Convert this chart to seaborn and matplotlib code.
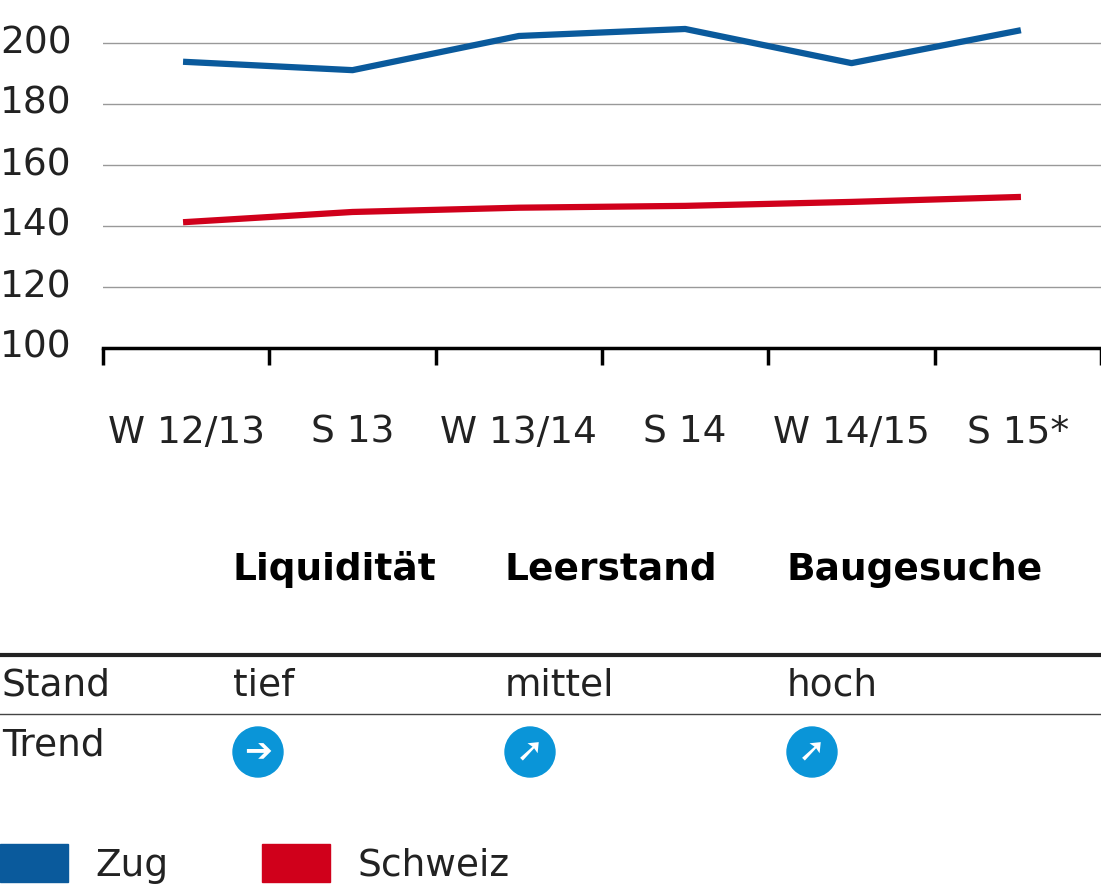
import matplotlib
matplotlib.use("Agg")
import matplotlib.pyplot as plt
import matplotlib.patches as mpatches
import pandas as pd
import seaborn as sns

PERIODS = ["W 12/13", "S 13", "W 13/14", "S 14", "W 14/15", "S 15*"]
ZUG = [193.8, 191.1, 202.3, 204.6, 193.4, 204.0]
SCHWEIZ = [141.3, 144.6, 146.0, 146.6, 147.9, 149.5]
Y_TICKS = [100, 120, 140, 160, 180, 200]

HEADERS = ["Liquidität", "Leerstand", "Baugesuche"]
STAND = ["tief", "mittel", "hoch"]
TREND = ["➔", "➚", "➚"]

BLUE = "#0a5a9c"
RED = "#d0001b"
ICON = "#0a95d8"
W, H = 1101, 893

df = pd.DataFrame({
    "period": PERIODS * 2,
    "value": ZUG + SCHWEIZ,
    "series": ["Zug"] * 6 + ["Schweiz"] * 6,
})

fig = plt.figure(figsize=(W / 100, H / 100), dpi=100)
ax = fig.add_axes([103 / W, 1 - 348 / H, (1101 - 103) / W, 348 / H])
ax.patch.set_alpha(0)
sns.lineplot(data=df, x="period", y="value", hue="series", sort=False,
             palette={"Zug": BLUE, "Schweiz": RED}, linewidth=4.5,
             legend=False, ax=ax)
ax.set_xlim(-0.5, 5.5)
ax.set_ylim(100, 100 + 348 / 3.05)
ax.set_yticks(Y_TICKS)
ax.set_yticklabels([])
ax.tick_params(axis="y", length=0)
ytrans = ax.get_yaxis_transform()
for t in Y_TICKS:
    ax.text(-103 / 998, t, str(t), transform=ytrans, fontsize=27,
            color="#222", ha="left", va="center", clip_on=False)
for t in Y_TICKS[1:]:
    ax.axhline(t, color="#999", lw=1, zorder=0)
ax.set_xticks([i - 0.5 for i in range(7)])
ax.set_xticklabels([])
ax.set_xticks(range(6), minor=True)
ax.set_xticklabels(PERIODS, minor=True, fontsize=27, color="#222")
ax.tick_params(axis="x", which="major", length=12, width=2.5, direction="out")
ax.tick_params(axis="x", which="minor", length=0, pad=48)
for s in ["top", "right", "left"]:
    ax.spines[s].set_visible(False)
ax.spines["bottom"].set_linewidth(2.5)
ax.set_xlabel("")
ax.set_ylabel("")


def fx(px):
    return px / W


def fy(py):
    return 1 - py / H


cols = [233, 505, 787]
for x, h in zip(cols, HEADERS):
    fig.text(fx(x), fy(570), h, fontsize=27, fontweight="bold", va="center")
fig.add_artist(plt.Line2D([0, 1], [fy(655), fy(655)], color="#222", lw=3))
fig.add_artist(plt.Line2D([0, 1], [fy(714), fy(714)], color="#444", lw=1))
fig.text(fx(2), fy(686), "Stand", fontsize=27, va="center", color="#222")
fig.text(fx(2), fy(745), "Trend", fontsize=27, va="center", color="#222")
for x, s, t in zip(cols, STAND, TREND):
    fig.text(fx(x), fy(686), s, fontsize=27, va="center", color="#222")
    cx, cy = x + 25, 752
    fig.add_artist(mpatches.Ellipse((fx(cx), fy(cy)), 50 / W, 50 / H,
                                    color=ICON, transform=fig.transFigure))
    fig.text(fx(cx), fy(cy), t, fontsize=24, color="white",
             ha="center", va="center")

for x, label, c in [(0, "Zug", BLUE), (262, "Schweiz", RED)]:
    fig.add_artist(mpatches.Rectangle((fx(x), fy(882)), 68 / W, 38 / H,
                                      color=c, transform=fig.transFigure))
    fig.text(fx(x + 95), fy(866), label, fontsize=27, va="center", color="#222")

fig.savefig("out.png", dpi=100)
